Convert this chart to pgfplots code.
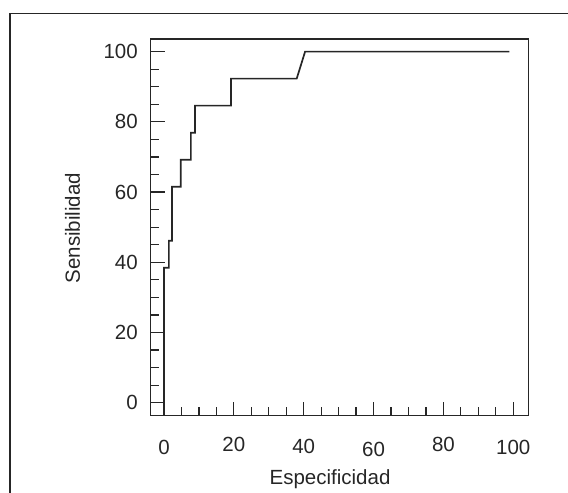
\documentclass[border=0pt]{standalone}
\usepackage{pgfplots}
\pgfplotsset{compat=1.18}
\usepackage{fontspec}
\setmainfont{Liberation Sans}
\definecolor{ink}{HTML}{262626}
\begin{document}
\begin{tikzpicture}
\useasboundingbox (0,0) rectangle (568bp,493bp);
\draw[ink, line width=1.3bp] (10bp,0) -- (10bp,479.5bp) -- (568bp,479.5bp);
\begin{axis}[
 at={(150.7bp,77.3bp)}, anchor=south west,
 scale only axis, width=377.6bp, height=376.7bp,
 xmin=-3.8, xmax=104.3, ymin=-3.7, ymax=103.6,
 axis line style={ink, line width=1.3bp},
 tick pos=left, tick align=inside,
 major tick length=14bp, minor tick length=8.5bp,
 every tick/.style={ink, line width=1.2bp},
 minor tick num=3,
 xtick={0,20,...,100}, ytick={0,20,...,100},
 xticklabels={\raisebox{2.4bp}{0},\raisebox{5bp}{20},\raisebox{3.4bp}{40},\raisebox{0bp}{60},\raisebox{5bp}{80},\raisebox{2.4bp}{100}},
 xticklabel style={anchor=base, yshift=-41bp, inner sep=0pt},
 yticklabel style={anchor=east, inner sep=0pt, xshift=-12.7bp},
 ticklabel style={font=\fontsize{20.5bp}{24bp}\selectfont, text=ink},
 /pgf/number format/assume math mode=true,
 xlabel=Especificidad, ylabel=Sensibilidad,
 label style={font=\fontsize{20.5bp}{24bp}\selectfont, text=ink, inner sep=0pt},
 xlabel style={at={(axis description cs:0.475,-0.1821)}, anchor=base},
 ylabel style={at={(axis description cs:-0.2071,0.498)}, anchor=center},
]
\addplot[ink, line width=1.7bp, line join=miter] coordinates {
 (0,-3.7) (0,38.46) (1.4,38.46) (1.4,46.15) (2.3,46.15) (2.3,61.54)
 (4.8,61.54) (4.8,69.23) (7.7,69.23) (7.7,76.92) (8.9,76.92) (8.9,84.62)
 (19.2,84.62) (19.2,92.31) (38.0,92.31) (40.4,100) (98.9,100)
};
\end{axis}
\end{tikzpicture}
\end{document}
